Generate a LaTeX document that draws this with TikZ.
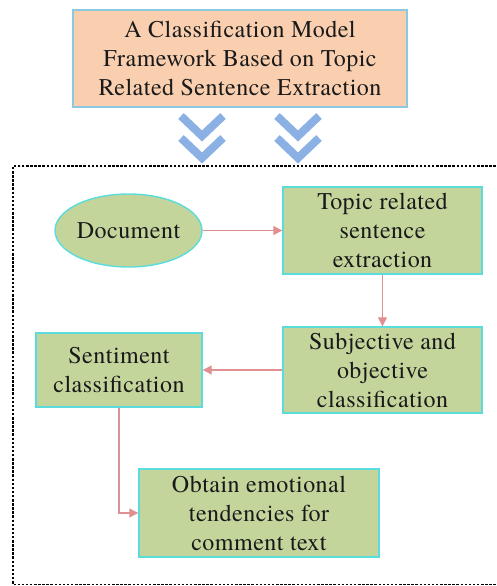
\documentclass[tikz,border=0pt]{standalone}
\usepackage{fontspec}
\IfFontExistsTF{texgyretermes-regular.otf}
  {\setmainfont{texgyretermes-regular.otf}[LetterSpace=2]}
  {\setmainfont{Liberation Serif}[LetterSpace=2]}
\usetikzlibrary{arrows.meta,shapes.geometric}
\definecolor{peach}{HTML}{F9CFB0}
\definecolor{skyedge}{HTML}{8CC8E0}
\definecolor{olive}{HTML}{C4D59C}
\definecolor{cyanedge}{HTML}{5ADCDC}
\definecolor{flow}{HTML}{E09090}
\definecolor{chev}{HTML}{8AB0E4}
\tikzset{
  txt/.style={font=\fontsize{24}{29}\selectfont, align=center, text=black!90},
  stepbox/.style={txt, draw=cyanedge, fill=olive, line width=1.4pt, inner sep=0pt},
  flowarrow/.style={draw=flow, line width=1.3pt, -{Triangle[length=9pt,width=9pt]}},
  chevron/.style={draw=chev, line width=8pt, line cap=butt, line join=miter}
}
\begin{document}
\begin{tikzpicture}[x=1pt,y=-1pt]
\useasboundingbox (0,0) rectangle (496,586);
% frame around the processing steps (open on the right)
\draw[line width=1.5pt, dash pattern=on 2.5pt off 1.6pt]
  (500,166) -- (13,166) -- (13,584.5) -- (500,584.5);
% title box
\node[txt, draw=skyedge, fill=peach, line width=1.2pt, minimum width=334pt, minimum height=97pt, inner sep=0pt]
  (title) at (240,58.5) {A Classification Model\\Framework Based on Topic\\Related Sentence Extraction};
% double chevrons pointing down
\foreach \cx in {202,298}{
  \draw[chevron] (\cx-21,116) -- (\cx,136) -- (\cx+21,116);
  \draw[chevron] (\cx-21,138) -- (\cx,158) -- (\cx+21,138);
}
% steps
\node[txt, ellipse, draw=cyanedge, fill=olive, line width=1.4pt, minimum width=147pt, minimum height=73pt, inner sep=0pt]
  (doc) at (128.5,230.5) {Document};
\node[stepbox, minimum width=199pt, minimum height=87pt] (topic) at (382.5,230.5) {Topic related\\sentence\\extraction};
\node[stepbox, minimum width=199pt, minimum height=86pt] (subj) at (382.5,370) {Subjective and\\objective\\classification};
\node[stepbox, minimum width=166pt, minimum height=74pt] (sent) at (119,370) {Sentiment\\classification};
\node[stepbox, minimum width=240pt, minimum height=88pt] (obt) at (259,513) {Obtain emotional\\tendencies for\\comment text};
% connectors
\draw[flowarrow] (doc) -- (topic);
\draw[flowarrow] (topic) -- (subj);
\draw[flowarrow] (subj) -- (sent);
\draw[flowarrow] (sent.south) |- (obt.west);
\end{tikzpicture}
\end{document}
